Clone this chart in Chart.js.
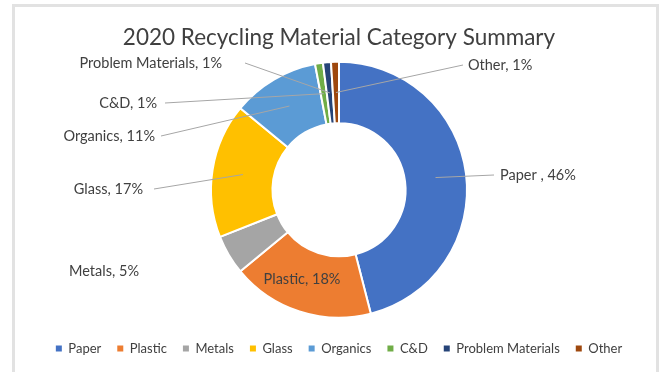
<!DOCTYPE html>
<html>
<head>
<meta charset="utf-8">
<script src="https://cdn.jsdelivr.net/npm/chart.js@4.4.1/dist/chart.umd.min.js"></script>
<style>
  html, body { margin: 0; padding: 0; background: #ffffff; }
  #wrap { position: relative; width: 661px; height: 372px; overflow: hidden; }
  #frame {
    position: absolute; left: 12px; top: 4px; width: 641px; height: 400px;
    border: 3px solid #e2e2e2; box-sizing: content-box;
  }
  canvas { position: absolute; left: 0; top: 0; }
</style>
</head>
<body>
<div id="wrap">
  <div id="frame"></div>
  <canvas id="chart" width="661" height="372"></canvas>
</div>
<script>
// 2020 recycling tonnage shares by material category (percent)
const categories = ['Paper', 'Plastic', 'Metals', 'Glass', 'Organics', 'C&D', 'Problem Materials', 'Other'];
const shares = [46, 18, 5, 17, 11, 1, 1, 1];
const sliceNames = ['Paper ', 'Plastic', 'Metals', 'Glass', 'Organics', 'C&D', 'Problem Materials', 'Other'];
const sliceColors = ['#4472C4', '#ED7D31', '#A5A5A5', '#FFC000', '#5B9BD5', '#70AD47', '#264478', '#9E480E'];

const FONT = 'Lato, "Open Sans", sans-serif';
const TEXT_COLOR = '#404040';

// Where each data label sits; leader lines run from `from` to the slice centroid.
const calloutPlaces = [
  { x: 500, y: 175, align: 'left',   from: [494, 175] },
  { x: 302, y: 279, align: 'center', from: null },
  { x: 139, y: 271, align: 'right',  from: null },
  { x: 143, y: 189, align: 'right',  from: [154, 189] },
  { x: 155, y: 136, align: 'right',  from: [161, 136] },
  { x: 157, y: 103, align: 'right',  from: [165, 103] },
  { x: 222, y: 63,  align: 'right',  from: [245, 63] },
  { x: 468, y: 65,  align: 'left',   from: [463, 65] }
];

const calloutPlugin = {
  id: 'callouts',
  afterDatasetsDraw(chart) {
    const ctx = chart.ctx;
    const arcs = chart.getDatasetMeta(0).data;
    ctx.save();
    ctx.font = '14.5px ' + FONT;
    ctx.textBaseline = 'middle';
    arcs.forEach((arc, i) => {
      const place = calloutPlaces[i];
      const c = arc.getCenterPoint();
      if (place.from) {
        ctx.beginPath();
        ctx.moveTo(place.from[0], place.from[1]);
        ctx.lineTo(c.x, c.y);
        ctx.strokeStyle = '#a6a6a6';
        ctx.lineWidth = 1;
        ctx.stroke();
      }
      ctx.fillStyle = TEXT_COLOR;
      ctx.textAlign = place.align;
      ctx.fillText(sliceNames[i] + ', ' + shares[i] + '%', place.x, place.y);
    });
    ctx.restore();
  }
};

new Chart(document.getElementById('chart'), {
  type: 'doughnut',
  data: {
    labels: categories,
    datasets: [{
      data: shares,
      backgroundColor: sliceColors,
      borderColor: '#ffffff',
      borderWidth: 2,
      radius: 128,
      cutout: '52%'
    }]
  },
  options: {
    responsive: false,
    animation: false,
    layout: { padding: { left: 24, right: 7, top: 0, bottom: 7 } },
    plugins: {
      tooltip: { enabled: false },
      title: {
        display: true,
        text: '2020 Recycling Material Category Summary',
        color: '#404040',
        font: { family: FONT, size: 22.5, weight: 'normal' },
        padding: { top: 24, bottom: 2.5 }
      },
      legend: {
        position: 'bottom',
        labels: {
          usePointStyle: true,
          pointStyle: 'rect',
          boxWidth: 6,
          boxHeight: 6,
          padding: 16,
          color: TEXT_COLOR,
          font: { family: FONT, size: 13 },
          generateLabels(chart) {
            return chart.data.labels.map((label, i) => ({
              text: label,
              fillStyle: sliceColors[i],
              strokeStyle: sliceColors[i],
              lineWidth: 0,
              pointStyle: 'rect',
              fontColor: TEXT_COLOR,
              hidden: false,
              index: i
            }));
          }
        }
      }
    }
  },
  plugins: [calloutPlugin]
});
</script>
</body>
</html>
